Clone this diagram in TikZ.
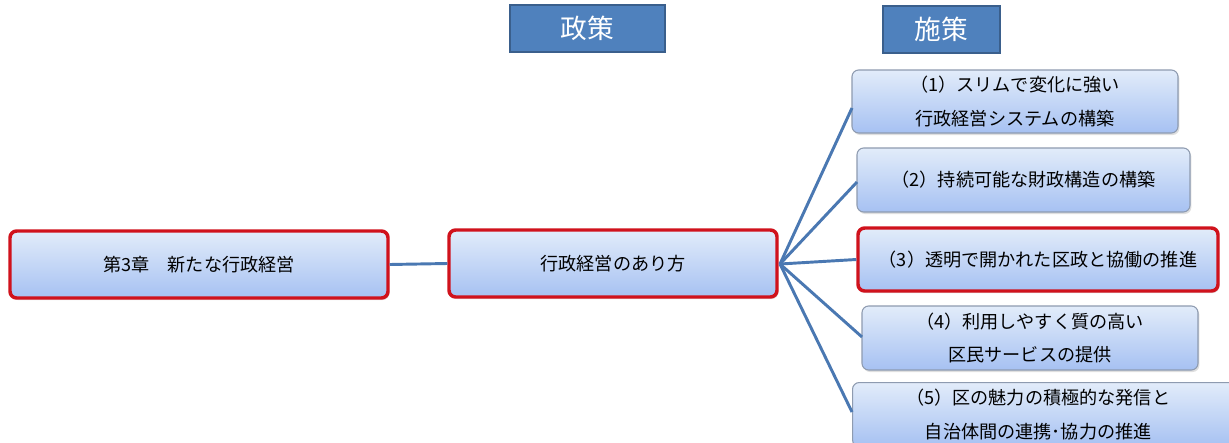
\documentclass[tikz,border=0pt]{standalone}
\usepackage{fontspec}
\setmainfont{Noto Sans CJK JP}
\usetikzlibrary{shadows}
\definecolor{hdrfill}{HTML}{4F81BD}
\definecolor{hdrline}{HTML}{3A5F8C}
\definecolor{boxtop}{HTML}{E2ECFA}
\definecolor{boxbot}{HTML}{A6C1F2}
\definecolor{redline}{HTML}{D0121C}
\definecolor{grayline}{HTML}{8E9BB0}
\definecolor{conn}{HTML}{4A78B2}
\tikzset{
  hdr/.style={draw=hdrline, line width=1.5pt, fill=hdrfill, text=white, font=\fontsize{20}{24}\selectfont, inner sep=0pt},
  boxbase/.style={top color=boxtop, bottom color=boxbot, rounded corners=5pt, inner sep=0pt, align=center,
     font=\fontsize{13.6}{25}\selectfont, drop shadow={shadow xshift=1pt, shadow yshift=-1.5pt, opacity=0.25}},
  redbox/.style={boxbase, draw=redline, line width=2.6pt},
  graybox/.style={boxbase, draw=grayline, line width=0.8pt},
  connector/.style={draw=conn, line width=2.2pt},
}
\begin{document}
\begin{tikzpicture}[x=0.75pt, y=-0.75pt]
\useasboundingbox (0,0) rectangle (1229,443);
\fill[white] (0,0) rectangle (1229,443);
% headers
\node[hdr, minimum width=155*0.75pt, minimum height=47*0.75pt] (h1) at (587.5,28.5) {政策};
\node[hdr, minimum width=117*0.75pt, minimum height=47*0.75pt] (h2) at (941.5,29.5) {施策};
% main boxes
\node[redbox, minimum width=378*0.75pt, minimum height=67*0.75pt] (a) at (199,264.5) {第3章\hspace{1em}新たな行政経営};
\node[redbox, minimum width=328*0.75pt, minimum height=67*0.75pt] (b) at (613,263.5) {行政経営のあり方};
% measures
\node[graybox, minimum width=326*0.75pt, minimum height=63*0.75pt] (m1) at (1015,101.5) {（1）スリムで変化に強い\\行政経営システムの構築};
\node[graybox, minimum width=333*0.75pt, minimum height=64*0.75pt] (m2) at (1023.5,180) {（2）持続可能な財政構造の構築};
\node[redbox, minimum width=360*0.75pt, minimum height=63*0.75pt] (m3) at (1038,259.5) {（3）透明で開かれた区政と協働の推進};
\node[graybox, minimum width=336*0.75pt, minimum height=64*0.75pt] (m4) at (1030,338) {（4）利用しやすく質の高い\\区民サービスの提供};
\node[graybox, minimum width=390*0.75pt, minimum height=64*0.75pt, anchor=north west] (m5) at (852,382) {\hspace*{-14pt}（5）区の魅力の積極的な発信と\\\hspace*{-14pt}自治体間の連携･協力の推進};
% connectors
\coordinate (o) at (780,264);
\draw[connector] (a.east) -- (b.west);
\draw[connector] (o) -- (852,108);
\draw[connector] (o) -- (857,182);
\draw[connector] (o) -- (m3.west);
\draw[connector] (o) -- (862,337);
\draw[connector] (o) -- (852,412);
\end{tikzpicture}
\end{document}
